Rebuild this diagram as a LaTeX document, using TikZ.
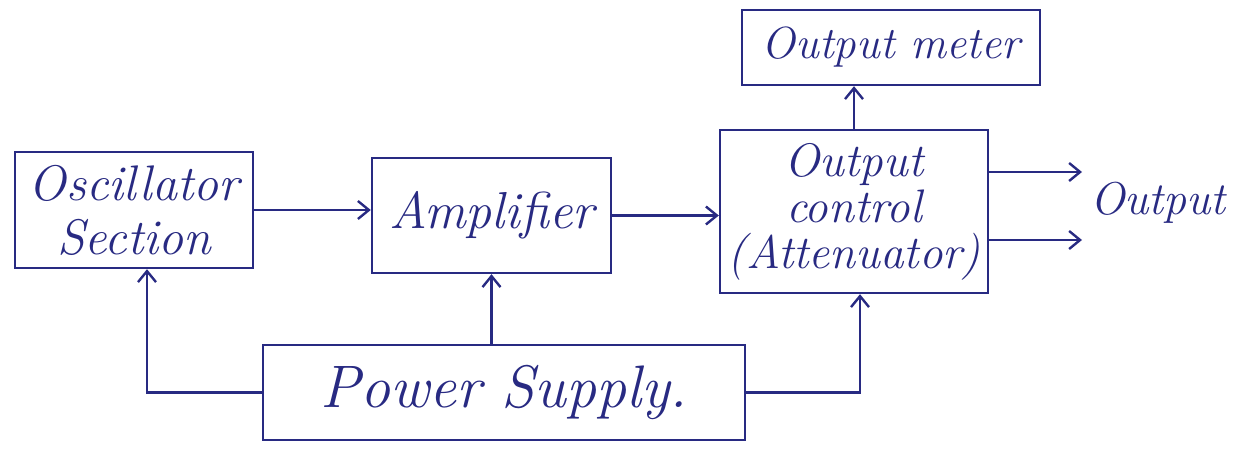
\documentclass[tikz,border=0pt]{standalone}
\usetikzlibrary{arrows.meta}
\definecolor{ink}{RGB}{40,42,130}
\begin{document}
\begin{tikzpicture}[x=1pt,y=-1pt,
  blk/.style={draw=ink, line width=2.4pt, text=ink, align=center, inner sep=2pt},
  lbl/.style={text=ink, font=\itshape\fontsize{46}{50}\selectfont},
  arr/.style={draw=ink, line width=2.4pt, -{Straight Barb[length=11pt,width=18pt,line width=2.4pt]}}]
\useasboundingbox (0,0) rectangle (1237,457);
\node[blk, minimum width=238pt, minimum height=116pt, font=\itshape\fontsize{50}{54}\selectfont] (osc) at (134,210) {Oscillator\\Section};
\node[blk, minimum width=239pt, minimum height=115pt, font=\itshape\fontsize{52}{56}\selectfont] (amp) at (491.5,215.5) {Amplifier};
\node[blk, minimum width=268pt, minimum height=163pt, font=\itshape\fontsize{47}{46}\selectfont] (ctl) at (854,211.5) {Output\\control\\(Attenuator)};
\node[blk, minimum width=298pt, minimum height=75pt, font=\itshape\fontsize{45}{48}\selectfont] (meter) at (891,47.5) {Output meter};
\node[blk, minimum width=482pt, minimum height=95pt, font=\itshape\fontsize{60}{64}\selectfont] (ps) at (504,392.5) {Power Supply.};
\node[lbl] (out) at (1158,203) {Output};
\coordinate (o1) at (1082,172);
\coordinate (o2) at (1082,240);
\coordinate (oscin) at ([xshift=13pt]osc.south);
\coordinate (ctlin) at ([xshift=6pt]ctl.south);
\draw[arr] (osc.east) -- (osc.east -| amp.west);
\draw[arr] (amp.east) -- (amp.east -| ctl.west);
\draw[arr] (ctl.north) -- (ctl.north |- meter.south);
\draw[arr] (o1 -| ctl.east) -- (o1);
\draw[arr] (o2 -| ctl.east) -- (o2);
\draw[arr] (amp.south |- ps.north) -- (amp.south);
\draw[arr] (ps.west) -| (oscin);
\draw[arr] (ps.east) -| (ctlin);
\end{tikzpicture}
\end{document}
